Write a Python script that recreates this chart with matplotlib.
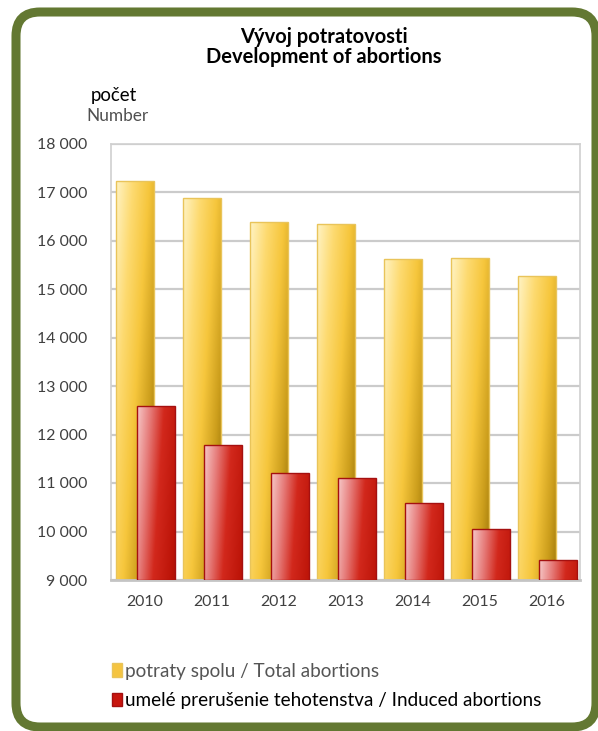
import numpy as np
import matplotlib
matplotlib.use("Agg")
import matplotlib.pyplot as plt
from matplotlib.patches import FancyBboxPatch, Patch
from matplotlib.colors import LinearSegmentedColormap
from matplotlib.ticker import FuncFormatter, MultipleLocator

years = ["2010", "2011", "2012", "2013", "2014", "2015", "2016"]
total_abortions = [17230, 16880, 16380, 16350, 15610, 15630, 15260]
induced_abortions = [12590, 11790, 11210, 11100, 10580, 10060, 9410]
title_sk = "Vývoj potratovosti"
title_en = "Development of abortions"
label_total = "potraty spolu / Total abortions"
label_induced = "umelé prerušenie tehotenstva / Induced abortions"

plt.rcParams['font.family'] = ['Lato', 'DejaVu Sans']

W, H = 598, 731
fig = plt.figure(figsize=(W / 100, H / 100), dpi=100)
fig.patch.set_facecolor('white')
renderer = fig.canvas.get_renderer()

# background axes in pixel units for the frame
bg = fig.add_axes([0, 0, 1, 1], zorder=-5)
bg.set_xlim(0, W)
bg.set_ylim(H, 0)
bg.axis('off')
frame = FancyBboxPatch((16, 12), 580, 715,
                       boxstyle="round,pad=0,rounding_size=24",
                       facecolor='white', edgecolor='#637832', linewidth=6.5)
bg.add_patch(frame)


def fit_size(text, target_px, **kw):
    t = fig.text(0, 0, text, fontsize=10, **kw)
    w = t.get_window_extent(renderer).width
    t.remove()
    return 10 * target_px / w


ax = fig.add_axes([111 / W, 1 - 580 / H, (580 - 111) / W, (580 - 143.5) / H])
ax.set_facecolor('none')
ax.set_zorder(2)

yellow_cmap = LinearSegmentedColormap.from_list('y', [
    (0.0, '#FFF3C4'), (0.28, '#FDDA70'), (0.55, '#F6C63C'),
    (0.8, '#CC9E1C'), (1.0, '#9A7408')])
red_cmap = LinearSegmentedColormap.from_list('r', [
    (0.0, '#F6C8C8'), (0.22, '#E67C7A'), (0.45, '#D2281C'),
    (0.75, '#BC1408'), (1.0, '#881005')])

x = np.arange(len(years))
width = 0.56
ymin = 9000


def grad_bars(xs, vals, cmap, edge, zo):
    bars = ax.bar(xs, np.array(vals) - ymin, width, bottom=ymin,
                  facecolor='none', edgecolor=edge, linewidth=1.0, zorder=zo + 0.5)
    u = np.linspace(0, 1, 60)
    v = np.linspace(0, 1, 200)
    U, V = np.meshgrid(u, v)
    for b in bars:
        x0, y0 = b.get_x(), b.get_y()
        w, h = b.get_width(), b.get_height()
        hv = (17500 - ymin)
        vv = V * (h / hv)
        T = np.clip(0.62 * U + 0.45 * vv, 0, 1)
        rgba = cmap(T)
        im = ax.imshow(rgba, extent=(x0, x0 + w, y0, y0 + h), origin='upper',
                       aspect='auto', zorder=zo, interpolation='bilinear')
        im.set_clip_path(b)
    return bars


grad_bars(x - 0.14, total_abortions, yellow_cmap, '#E9C45A', 2)
grad_bars(x + 0.175, induced_abortions, red_cmap, '#A51010', 3)

tick_fs = fit_size("18 000", 50)

ax.set_xlim(-0.5, len(years) - 0.5)
ax.set_ylim(9000, 18000)
ax.yaxis.set_major_locator(MultipleLocator(1000))
ax.yaxis.set_major_formatter(FuncFormatter(lambda v, p: f"{int(v):,}".replace(",", " ")))
ax.set_xticks(x)
ax.set_xticklabels(years)
ax.grid(axis='y', color='#CBCBCB', linewidth=1.6, zorder=0)
ax.set_axisbelow(True)
for s in ['left', 'top', 'right']:
    ax.spines[s].set_color('#D0D0D0')
    ax.spines[s].set_linewidth(1.2)
ax.spines['bottom'].set_color('#C4C4C4')
ax.spines['bottom'].set_linewidth(2)
ax.tick_params(axis='both', length=0, labelsize=tick_fs, labelcolor='#404040')
ax.tick_params(axis='y', pad=17)
ax.tick_params(axis='x', pad=11)

t_fs = fit_size(title_en, 236, fontweight='bold')
fig.text(324 / W, 1 - 37 / H, title_sk, ha='center', va='center',
         fontsize=t_fs, fontweight='bold', color='black')
fig.text(324 / W, 1 - 57 / H, title_en, ha='center', va='center',
         fontsize=t_fs, fontweight='bold', color='black')
num_fs = fit_size("Number", 62)
fig.text(114 / W, 1 - 95 / H, "počet", ha='center', va='center',
         fontsize=num_fs * 1.08, color='black')
fig.text(118 / W, 1 - 116 / H, "Number", ha='center', va='center',
         fontsize=num_fs, color='#505050')

leg_fs = fit_size(label_induced, 417)
handles = [Patch(facecolor='#F5C440', edgecolor='#E9C45A'),
           Patch(facecolor='#C8160E', edgecolor='#A51010')]
leg = fig.legend(handles, [label_total, label_induced], loc='upper left',
                 bbox_to_anchor=(104 / W, 1 - 655 / H), frameon=False,
                 fontsize=leg_fs, handlelength=0.55, handleheight=0.7,
                 handletextpad=0.15, labelspacing=0.65, borderaxespad=0)
leg.get_texts()[0].set_color('#555555')
leg.get_texts()[1].set_color('black')

fig.savefig('out.png', dpi=100, facecolor='white')
